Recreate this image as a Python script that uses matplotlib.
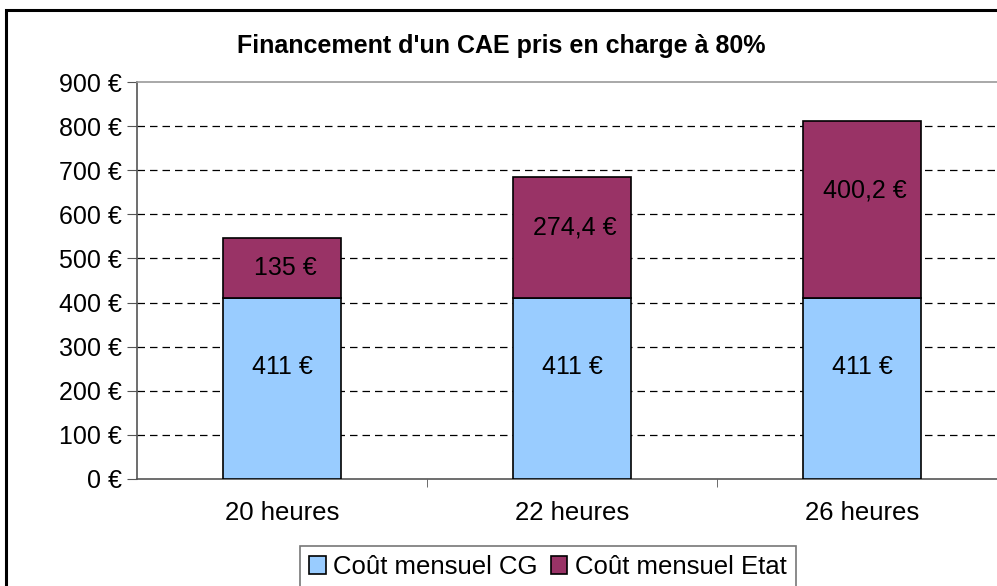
import matplotlib
matplotlib.use("Agg")
import matplotlib.pyplot as plt
from matplotlib.patches import Rectangle
import numpy as np

plt.rcParams['font.family'] = ['Liberation Sans', 'DejaVu Sans']

categories = ["20 heures", "22 heures", "26 heures"]
cout_cg = [411, 411, 411]
cout_etat = [135, 274.4, 400.2]
cg_labels = ["411 €", "411 €", "411 €"]
etat_labels = ["135 €", "274,4 €", "400,2 €"]
yticks = [0, 100, 200, 300, 400, 500, 600, 700, 800, 900]
ytick_labels = ["0 €", "100 €", "200 €", "300 €", "400 €", "500 €", "600 €", "700 €", "800 €", "900 €"]
title = "Financement d'un CAE pris en charge à 80%"
series_names = ["Coût mensuel CG", "Coût mensuel Etat"]

W, H = 997, 586
fig = plt.figure(figsize=(W / 100, H / 100), dpi=100)
fig.patch.set_facecolor("white")

# outer chart frame (cut off at right and bottom)
fig.add_artist(Rectangle((6 / W, -0.1), 1.2, 1 - 10 / H + 0.1,
                         transform=fig.transFigure, fill=False,
                         edgecolor="black", linewidth=2.2, zorder=10))

ax = fig.add_axes([137 / W, 1 - 479 / H, (1007 - 137) / W, (479 - 82) / H])
ax.set_facecolor("white")

x = np.arange(len(categories))
bw = 0.41
b1 = ax.bar(x, cout_cg, bw, color="#99CCFF", edgecolor="black", linewidth=1.2,
            label=series_names[0], zorder=3)
b2 = ax.bar(x, cout_etat, bw, bottom=cout_cg, color="#993366", edgecolor="black",
            linewidth=1.2, label=series_names[1], zorder=3)

cg_frac = 0.62
etat_frac = [0.5, 0.58, 0.61]
for i in range(len(categories)):
    ax.text(x[i], cout_cg[i] * cg_frac, cg_labels[i], ha="center", va="center",
            fontsize=18, color="black", zorder=5)
    ax.text(x[i] + 0.01, cout_cg[i] + cout_etat[i] * etat_frac[i], etat_labels[i],
            ha="center", va="center", fontsize=18, color="black", zorder=5)

ax.set_xlim(-0.5, 2.5)
ax.set_ylim(0, 900)
ax.set_yticks(yticks)
ax.set_yticklabels(ytick_labels, fontsize=18)
ax.set_xticks(x)
ax.set_xticklabels(categories, fontsize=18.5)
ax.tick_params(axis="x", length=0, pad=16)
ax.set_xticks([0.5, 1.5], minor=True)
ax.tick_params(axis="x", which="minor", length=6, direction="out", color="#555555")
ax.tick_params(axis="y", length=7, direction="out", color="#555555", pad=4)

for v in yticks[1:-1]:
    ax.axhline(v, color="black", linestyle=(0, (6, 4)), linewidth=0.9, zorder=1)

for s in ["left", "bottom"]:
    ax.spines[s].set_color("#555555")
    ax.spines[s].set_linewidth(1.2)
for s in ["top", "right"]:
    ax.spines[s].set_color("#999999")
    ax.spines[s].set_linewidth(1.2)

fig.text(501 / W, 1 - 46 / H, title, ha="center", va="center", fontsize=18,
         fontweight="bold")

leg = fig.legend(handles=[b1, b2], labels=series_names, loc="upper left",
                 bbox_to_anchor=(300 / W, 1 - 546 / H), fontsize=18.5, frameon=True,
                 fancybox=False, edgecolor="#555555", handlelength=0.65,
                 handleheight=0.65, handletextpad=0.3, columnspacing=0.5, ncol=2,
                 borderpad=0.35, borderaxespad=0)
leg.get_frame().set_linewidth(1.2)

fig.savefig("out.png", dpi=100, facecolor="white")
